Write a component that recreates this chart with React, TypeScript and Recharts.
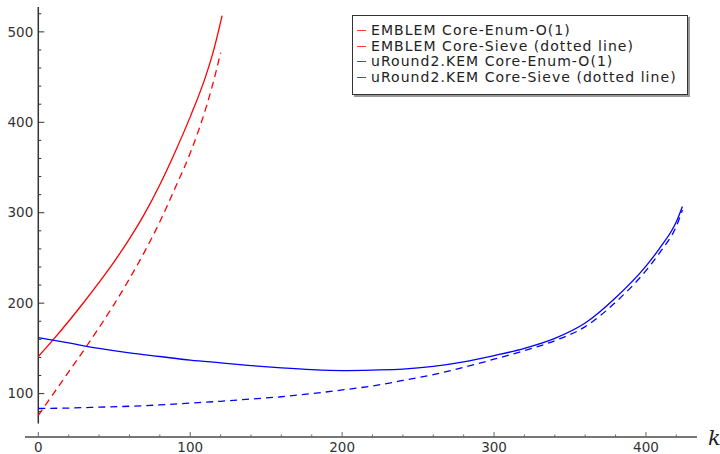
import { LineChart, Line, XAxis, YAxis, Legend, ReferenceLine, Label } from 'recharts';

// k values and costs
const kEmblemEnum = [0, 10, 20, 30, 40, 50, 60, 70, 80, 90, 100, 110, 115, 121];
const emblemEnum = [141, 160, 180, 201, 223, 246, 271, 299, 331, 367, 406, 450, 477, 518];

const kEmblemSieve = [0, 10, 20, 30, 40, 50, 60, 70, 80, 90, 100, 110, 115, 120];
const emblemSieve = [76, 100, 124, 148, 173, 199, 227, 257, 290, 327, 366, 414, 443, 477];

const kUround = [0, 20, 40, 60, 80, 100, 120, 140, 160, 180, 200, 220, 240, 260, 280, 300, 320, 340, 360, 380, 400, 410, 420, 424];
const uroundEnum = [162, 156, 150, 145, 141, 137, 134, 131, 128.5, 126.5, 125.5, 126, 127, 130, 135, 142, 150, 161, 178, 206, 241, 263, 290, 307];
const uroundSieve = [83.5, 84, 85, 86, 87.5, 89.5, 91.5, 94, 96.5, 100, 104, 108.5, 114.5, 121, 129, 138, 147.5, 158.5, 174, 201, 236, 258, 285, 303];

const xTicks = [0, 20, 40, 60, 80, 100, 120, 140, 160, 180, 200, 220, 240, 260, 280, 300, 320, 340, 360, 380, 400, 420];
const yTicks = [80, 100, 120, 140, 160, 180, 200, 220, 240, 260, 280, 300, 320, 340, 360, 380, 400, 420, 440, 460, 480, 500, 520];

const toPoints = (ks: number[], vs: number[]) => ks.map((k, i) => ({ k, v: vs[i] }));

const W = 720;
const H = 454;
const Y_AXIS_W = 25;
const MARGIN = { top: 7, right: 23, bottom: 0, left: 0 };
const X_AXIS_H = 17;
const X_DOMAIN: [number, number] = [-8.75, 433.6];
const Y_DOMAIN: [number, number] = [52, 527.5];

const plotLeft = MARGIN.left + Y_AXIS_W;
const plotW = W - plotLeft - MARGIN.right;
const plotBottom = H - MARGIN.bottom - X_AXIS_H;
// pixel position of k = 0, where the vertical axis sits
const axisX = plotLeft + ((0 - X_DOMAIN[0]) / (X_DOMAIN[1] - X_DOMAIN[0])) * plotW;

const FONT = '"DejaVu Sans", sans-serif';

const YTick = (props: any) => {
  const { y, payload } = props;
  const major = payload.value % 100 === 0;
  return (
    <g>
      <line x1={axisX} x2={axisX + (major ? 6 : 3)} y1={y} y2={y} stroke="#333" strokeWidth={1} />
      {major && (
        <text x={axisX - 5} y={y} dy="0.35em" textAnchor="end" fontSize={13.5} fill="#333" fontFamily={FONT}>
          {payload.value}
        </text>
      )}
    </g>
  );
};

const XTick = (props: any) => {
  const { x, payload } = props;
  const major = payload.value % 100 === 0;
  return (
    <g>
      <line x1={x} x2={x} y1={plotBottom} y2={plotBottom - (major ? 5 : 2.5)} stroke="#666" strokeWidth={1} />
      {major && (
        <text x={x} y={plotBottom + 10} dy="0.35em" textAnchor="middle" fontSize={13.5} fill="#333" fontFamily={FONT}>
          {payload.value}
        </text>
      )}
    </g>
  );
};

const LegendBox = (props: any) => {
  const { payload } = props;
  return (
    <div
      style={{
        border: '1.5px solid #333',
        boxShadow: '2px 2px 0 #999',
        background: '#fff',
        padding: '7px 10px 9px 4px',
        fontFamily: FONT,
        fontSize: 14,
        letterSpacing: '1.05px',
        color: '#222',
        whiteSpace: 'nowrap',
      }}
    >
      {(payload || []).map((entry: any) => (
        <div key={entry.value} style={{ display: 'flex', alignItems: 'center', height: 15.5, overflow: 'visible' }}>
          <span
            style={{ display: 'inline-block', width: 9, height: 1, background: entry.color, opacity: 0.75, marginRight: 5 }}
          />
          <span style={{ display: 'inline-block', lineHeight: '15.5px', height: 15.5 }}>{entry.value}</span>
        </div>
      ))}
    </div>
  );
};

export default function App() {
  return (
    <div style={{ position: 'absolute', left: 0, top: 0, background: '#fff' }}>
      <LineChart width={W} height={H} margin={MARGIN}>
        <XAxis
          dataKey="k"
          type="number"
          domain={X_DOMAIN}
          allowDataOverflow
          ticks={xTicks}
          interval={0}
          height={X_AXIS_H}
          axisLine={{ stroke: '#777', strokeWidth: 2 }}
          tickLine={false}
          tick={<XTick />}
        >
          <Label
            content={(p: any) => (
              <text
                x={p.viewBox.x + p.viewBox.width + 11}
                y={p.viewBox.y + 8}
                fontSize={21}
                fontStyle="italic"
                fontFamily='"DejaVu Serif", serif'
                fill="#222"
              >
                k
              </text>
            )}
          />
        </XAxis>
        <YAxis
          type="number"
          domain={Y_DOMAIN}
          allowDataOverflow
          ticks={yTicks}
          interval={0}
          width={Y_AXIS_W}
          axisLine={false}
          tickLine={false}
          tick={<YTick />}
        />
        <ReferenceLine
          segment={[{ x: 0, y: 66.8 }, { x: 0, y: Y_DOMAIN[1] }]}
          stroke="#333"
          strokeWidth={1.5}
        />
        <Legend
          layout="vertical"
          align="center"
          verticalAlign="middle"
          wrapperStyle={{ left: 352, top: 15, width: 'auto' }}
          content={<LegendBox />}
        />
        <Line
          data={toPoints(kEmblemEnum, emblemEnum)}
          dataKey="v"
          name="EMBLEM Core-Enum-O(1)"
          type="monotone"
          stroke="#ff0000"
          strokeWidth={1.3}
          dot={false}
          isAnimationActive={false}
        />
        <Line
          data={toPoints(kEmblemSieve, emblemSieve)}
          dataKey="v"
          name="EMBLEM Core-Sieve (dotted line)"
          type="monotone"
          stroke="#ff0000"
          strokeWidth={1.3}
          strokeDasharray="7 5"
          dot={false}
          isAnimationActive={false}
        />
        <Line
          data={toPoints(kUround, uroundEnum)}
          dataKey="v"
          name="uRound2.KEM Core-Enum-O(1)"
          type="monotone"
          stroke="#0000ff"
          strokeWidth={1.3}
          dot={false}
          isAnimationActive={false}
        />
        <Line
          data={toPoints(kUround, uroundSieve)}
          dataKey="v"
          name="uRound2.KEM Core-Sieve (dotted line)"
          type="monotone"
          stroke="#0000ff"
          strokeWidth={1.3}
          strokeDasharray="7 5"
          dot={false}
          isAnimationActive={false}
        />
      </LineChart>
    </div>
  );
}
